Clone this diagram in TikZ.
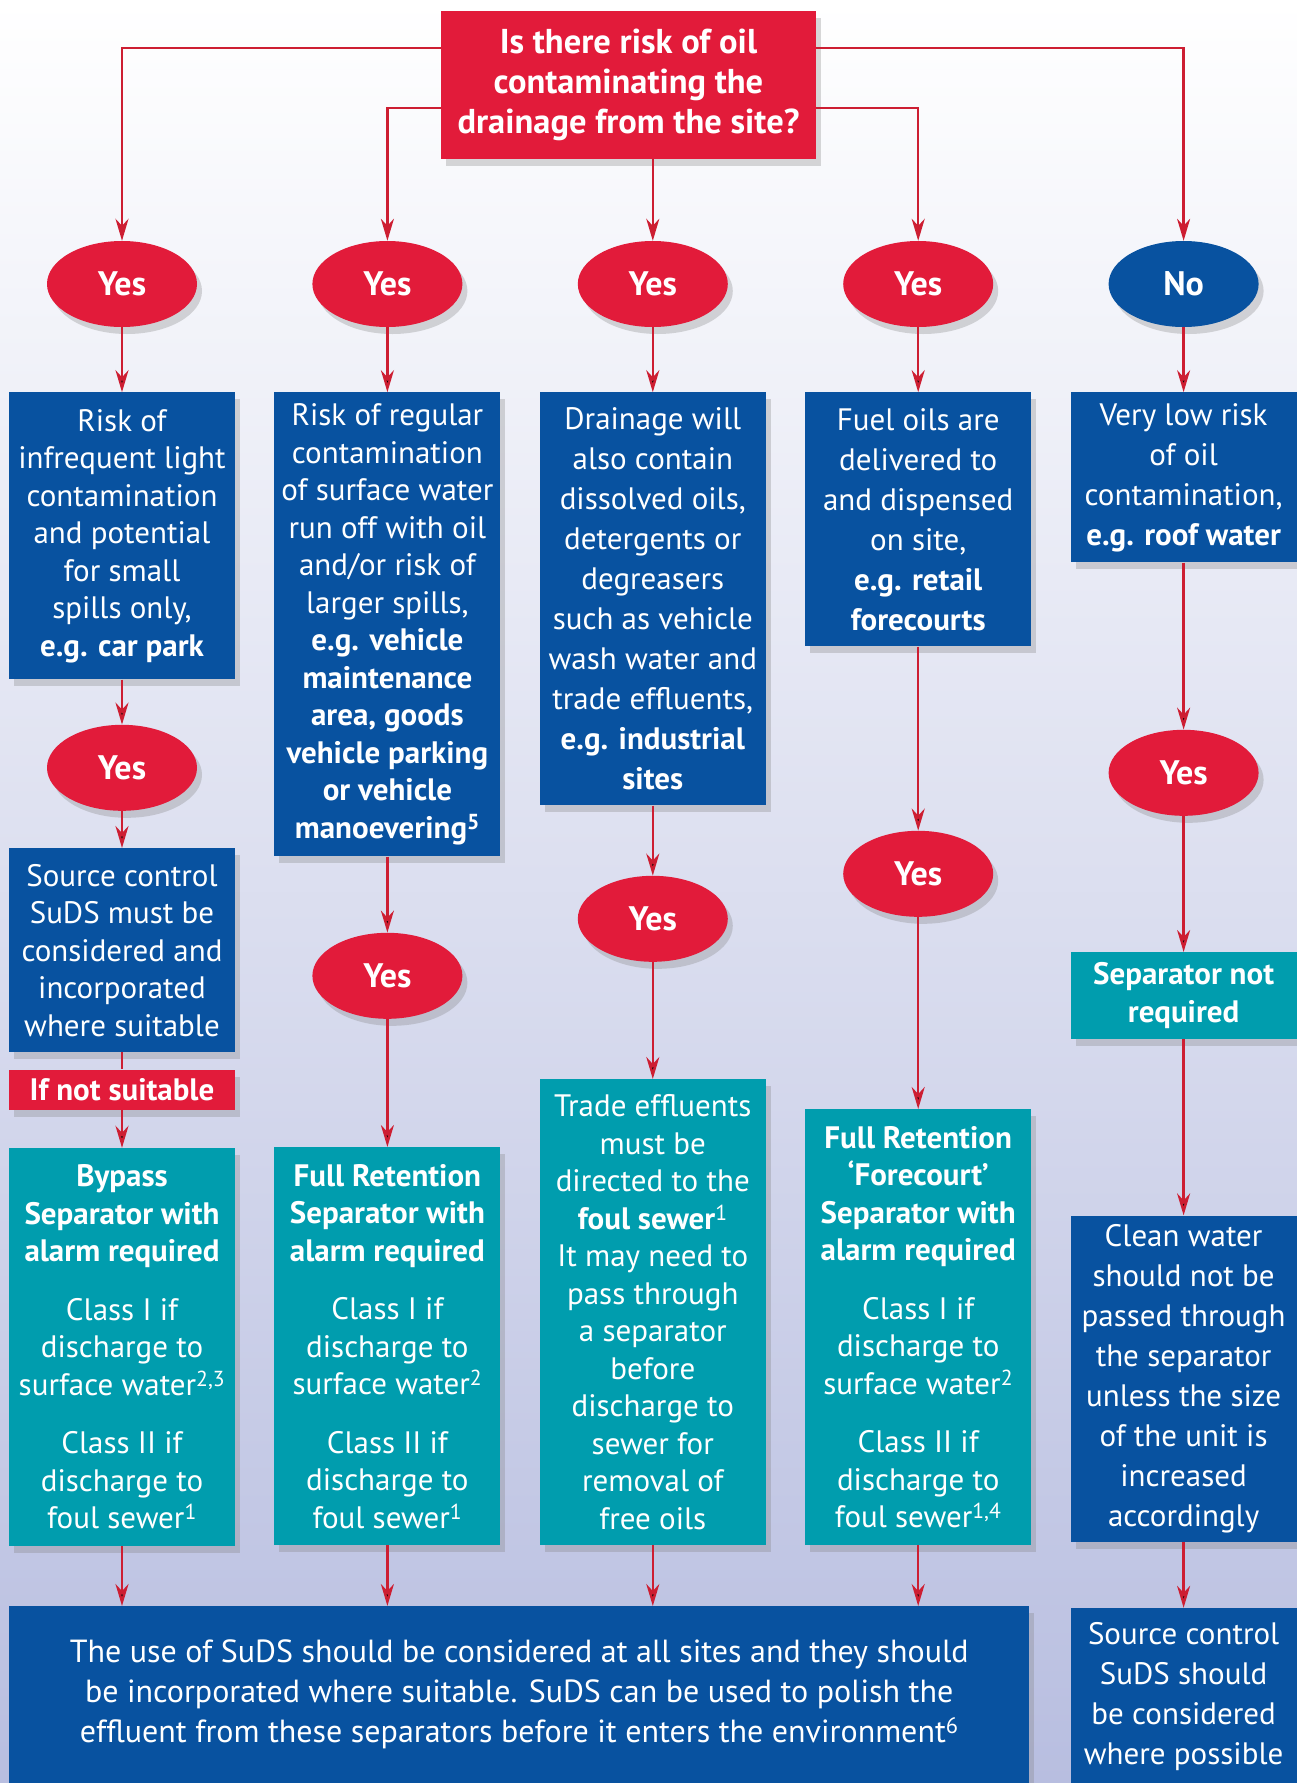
\documentclass[tikz,border=0pt]{standalone}
\usepackage{fontspec}
\setmainfont{PT Sans}
\usetikzlibrary{positioning,shapes.geometric,shadows,arrows.meta}

\definecolor{oilred}{RGB}{226,27,58}
\definecolor{oilblue}{RGB}{8,82,160}
\definecolor{oilteal}{RGB}{0,157,174}
\definecolor{linered}{RGB}{205,30,50}
\definecolor{haze}{RGB}{238,240,246}
\definecolor{lavender}{RGB}{184,190,224}

\begin{document}
\begin{tikzpicture}[x=1pt, y=-1pt,
	card/.style={rectangle, minimum width=226pt, inner sep=2pt, align=center, text=white, font=\fontsize{31}{37.5}\selectfont, drop shadow={shadow xshift=5pt, shadow yshift=-7pt, opacity=0.3}},
	loose/.style={font=\fontsize{31}{40}\selectfont},
	risk/.style={card, fill=oilblue},
	sepbox/.style={card, fill=oilteal},
	flag/.style={card, fill=oilred, font=\bfseries\fontsize{31}{37.5}\selectfont},
	answer/.style={ellipse, fill=oilred, minimum width=150pt, minimum height=86pt, inner sep=0pt, text=white, font=\bfseries\fontsize{34}{40}\selectfont, drop shadow={shadow xshift=5pt, shadow yshift=-7pt, opacity=0.3}},
	flow/.style={draw=linered, line width=2.5pt, -{Stealth[length=22pt, width=13pt, inset=7pt]}}]
	\useasboundingbox (0,0) rectangle (1297,1783);
	\fill[top color=white, middle color=haze, bottom color=lavender] (0,0) rectangle (1297,1783);
	
	\node[flag, minimum width=375pt, minimum height=148pt, font=\bfseries\fontsize{34.5}{40}\selectfont] (q) at (628.5,85) {Is there risk of oil\\contaminating the\\drainage from the site?};
	
	\node[answer] (yes1) at (122,284) {Yes};
	\node[answer, right=115pt of yes1] (yes2) {Yes};
	\node[answer, right=115pt of yes2] (yes3) {Yes};
	\node[answer, right=115pt of yes3] (yes4) {Yes};
	\node[answer, fill=oilblue, right=115pt of yes4] (no) {No};
	
	\node[risk, below=65pt of yes1, minimum height=287pt] (risk1) {Risk of\\infrequent light\\contamination\\and potential\\for small\\spills only,\\\textbf{e.g. car park}};
	\node[risk, below=65pt of yes2, minimum height=464pt] (risk2) {Risk of regular\\contamination\\of surface water\\run off with oil\\and/or risk of\\larger spills,\\\textbf{e.g. vehicle}\\\textbf{maintenance}\\\textbf{area, goods}\\\textbf{vehicle parking}\\\textbf{or vehicle}\\\textbf{manoevering\textsuperscript{5}}};
	\node[risk, loose, below=65pt of yes3, minimum height=413pt] (risk3) {Drainage will\\also contain\\dissolved oils,\\detergents or\\degreasers\\such as vehicle\\wash water and\\trade effluents,\\\textbf{e.g. industrial}\\\textbf{sites}};
	\node[risk, loose, below=65pt of yes4, minimum height=254pt] (risk4) {Fuel oils are\\delivered to\\and dispensed\\on site,\\\textbf{e.g. retail}\\\textbf{forecourts}};
	\node[risk, loose, below=65pt of no, minimum height=170pt] (risk5) {Very low risk\\of oil\\contamination,\\\textbf{e.g. roof water}};
	
	\node[answer, below=45pt of risk1] (yes6) {Yes};
	\node[answer, below=76pt of risk2] (yes7) {Yes};
	\node[answer, below=70pt of risk3] (yes8) {Yes};
	\node[answer, below=184pt of risk4] (yes9) {Yes};
	\node[answer, below=167pt of risk5] (yes10) {Yes};
	
	\node[risk, below=37pt of yes6, minimum height=204pt] (source) {Source control\\SuDS must be\\considered and\\incorporated\\where suitable};
	\node[flag, below=17pt of source, minimum height=40pt] (unsuit) {If not suitable};
	\node[sepbox, below=38pt of unsuit, minimum height=398pt] (bypass) {\textbf{Bypass}\\\textbf{Separator with}\\\textbf{alarm required}\\[21pt]Class I if\\discharge to\\surface water\textsuperscript{2,3}\\[21pt]Class II if\\discharge to\\foul sewer\textsuperscript{1}};
	\node[sepbox, below=128pt of yes7, minimum height=398pt] (full) {\textbf{Full Retention}\\\textbf{Separator with}\\\textbf{alarm required}\\[21pt]Class I if\\discharge to\\surface water\textsuperscript{2}\\[21pt]Class II if\\discharge to\\foul sewer\textsuperscript{1}};
	\node[sepbox, below=117pt of yes8, minimum height=466pt] (trade) {Trade effluents\\must be\\directed to the\\\textbf{foul sewer}\textsuperscript{1}\\It may need to\\pass through\\a separator\\before\\discharge to\\sewer for\\removal of\\free oils};
	\node[sepbox, below=192pt of yes9, minimum height=436pt] (forecourt) {\textbf{Full Retention}\\\textbf{‘Forecourt’}\\\textbf{Separator with}\\\textbf{alarm required}\\[21pt]Class I if\\discharge to\\surface water\textsuperscript{2}\\[21pt]Class II if\\discharge to\\foul sewer\textsuperscript{1,4}};
	\node[sepbox, below=136pt of yes10, minimum height=87pt, font=\bfseries\fontsize{31}{37.5}\selectfont] (notreq) {Separator not\\required};
	\node[risk, loose, below=176pt of notreq, minimum height=326pt] (clean) {Clean water\\should not be\\passed through\\the separator\\unless the size\\of the unit is\\increased\\accordingly};
	
	\node[risk, anchor=north west, minimum width=1020pt, minimum height=177pt, font=\fontsize{32}{40}\selectfont] (use) at (9,1606) {The use of SuDS should be considered at all sites and they should\\be incorporated where suitable. SuDS can be used to polish the\\effluent from these separators before it enters the environment\textsuperscript{6}};
	\node[risk, loose, below=66pt of clean, minimum height=177pt] (possible) {Source control\\SuDS should\\be considered\\where possible};
	
	\draw[flow] ([yshift=37pt]q.west) -| (yes1);
	\draw[flow] ([yshift=-23pt]q.west) -| (yes2);
	\draw[flow] (q.south -| yes3) -- (yes3);
	\draw[flow] ([yshift=-23pt]q.east) -| (yes4);
	\draw[flow] ([yshift=37pt]q.east) -| (no);
	
	\draw[flow] (yes1) edge (risk1) (yes2) edge (risk2) (yes3) edge (risk3) (yes4) edge (risk4) (no) edge (risk5)
	(risk1) edge (yes6) (risk2) edge (yes7) (risk3) edge (yes8) (risk4) edge (yes9) (risk5) edge (yes10)
	(yes6) edge (source) (unsuit) edge (bypass)
	(yes7) edge (full) (yes8) edge (trade) (yes9) edge (forecourt) (yes10) edge (notreq) (notreq) edge (clean)
	(bypass) edge (bypass |- use.north) (full) edge (full |- use.north) (trade) edge (trade |- use.north) (forecourt) edge (forecourt |- use.north)
	(clean) edge (possible);
	\draw[flow, -] (source) -- (unsuit);
\end{tikzpicture}
\end{document}
